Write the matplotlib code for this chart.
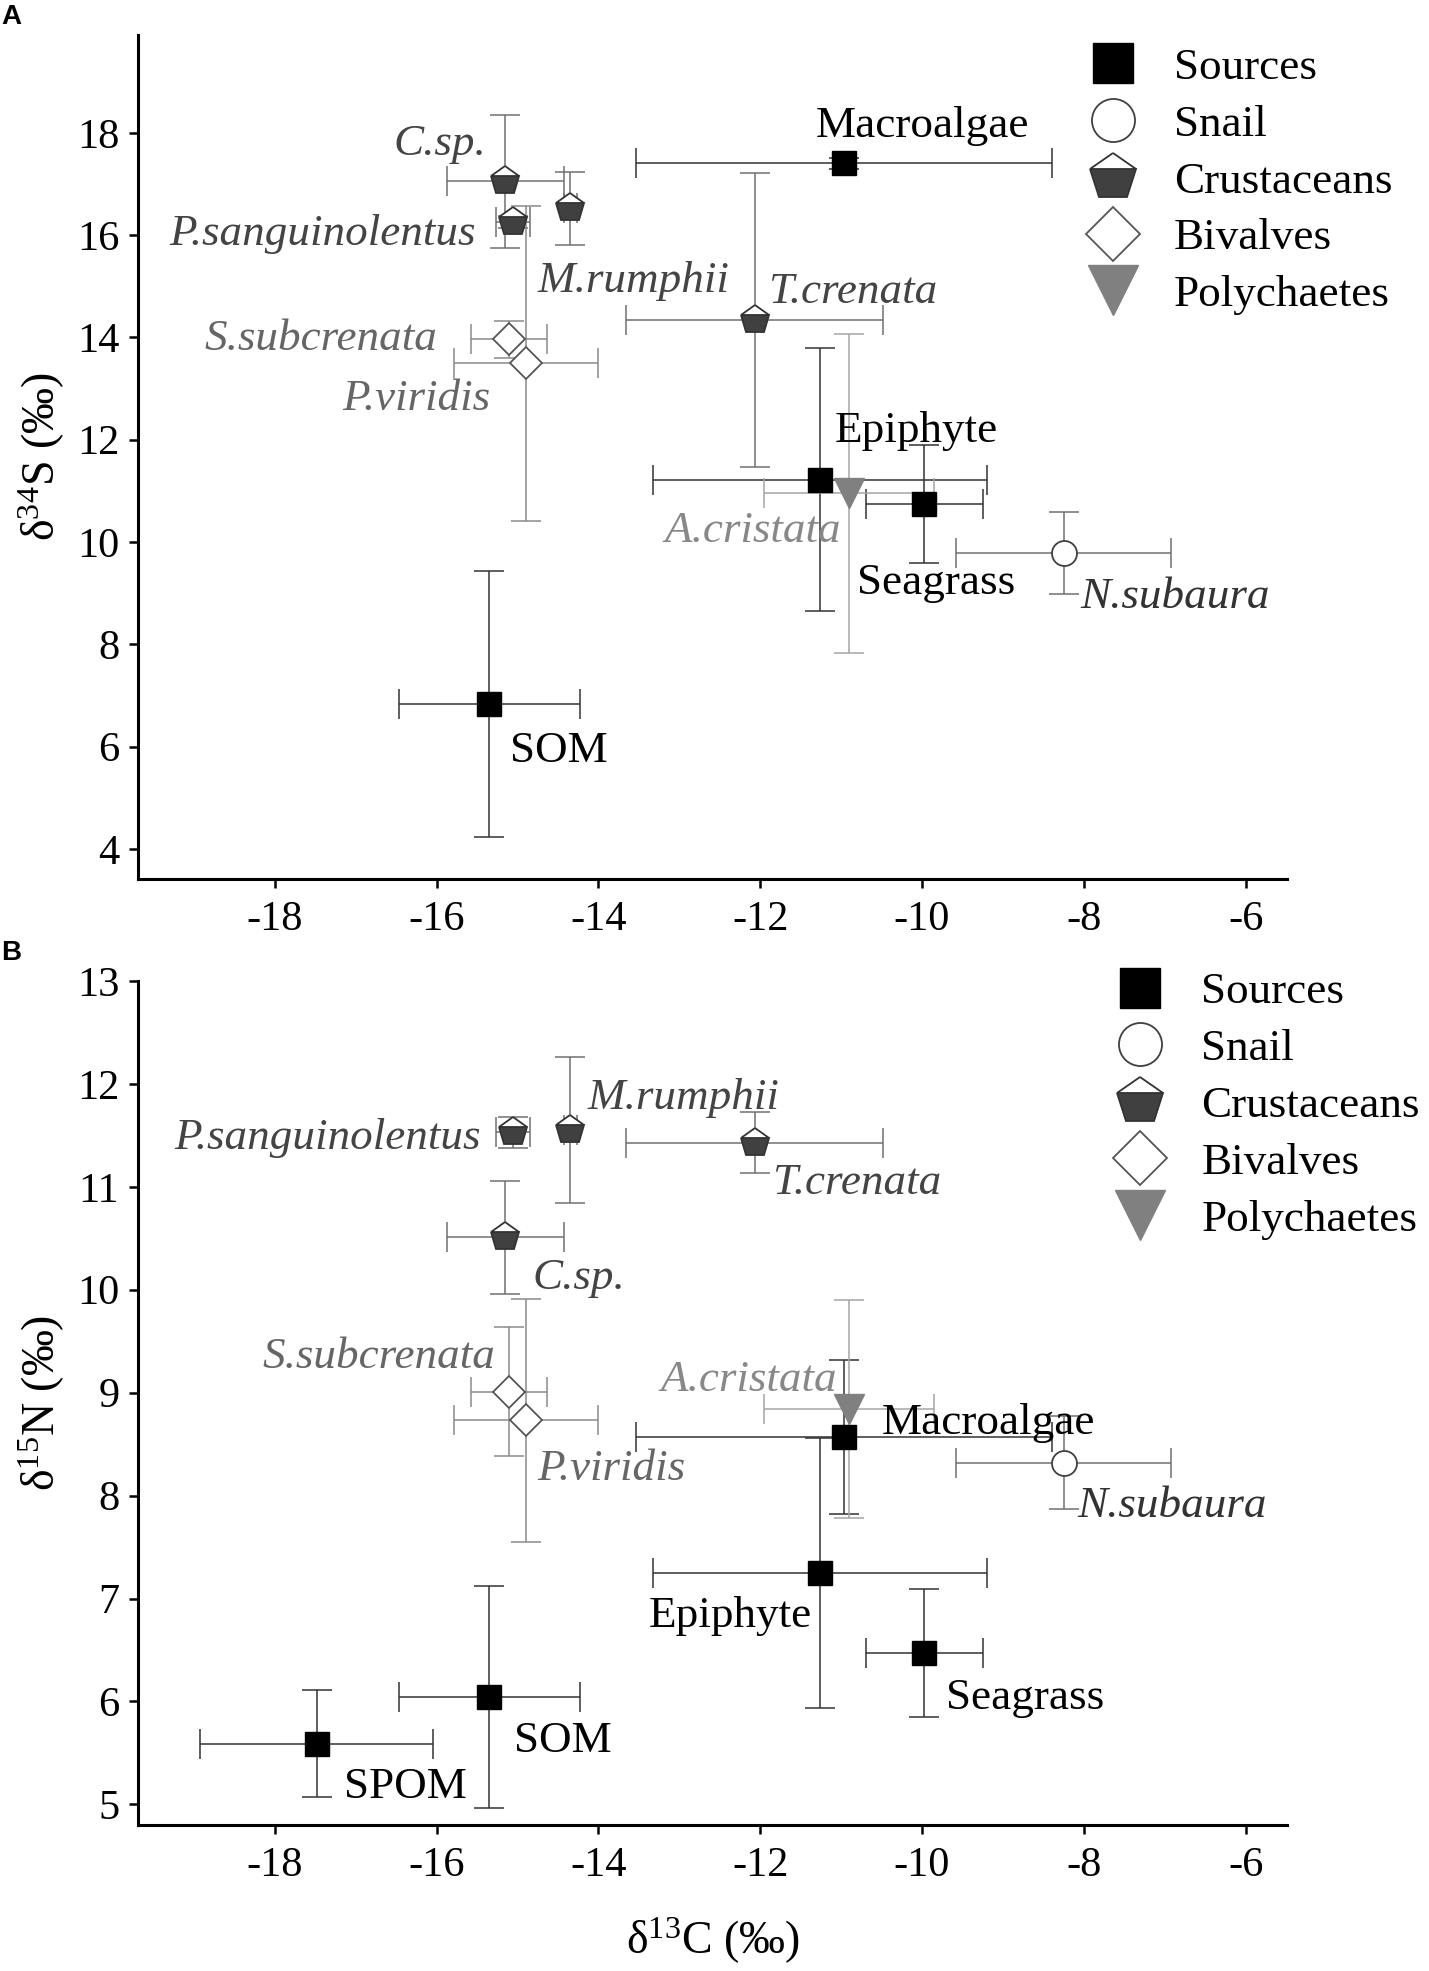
import numpy as np
import matplotlib
matplotlib.use('Agg')
import matplotlib.pyplot as plt
from matplotlib.lines import Line2D

plt.rcParams['font.family'] = ['Liberation Serif', 'DejaVu Serif']
plt.rcParams['mathtext.fontset'] = 'custom'
plt.rcParams['mathtext.rm'] = 'Liberation Serif'
plt.rcParams['mathtext.it'] = 'Liberation Serif:italic'
plt.rcParams['axes.unicode_minus'] = False

# taxa, in the same order for both panels
taxa = ['Macroalgae', 'Epiphyte', 'Seagrass', 'SOM', 'SPOM', 'N.subaura',
        'C.sp.', 'P.sanguinolentus', 'M.rumphii', 'T.crenata',
        'S.subcrenata', 'P.viridis', 'A.cristata']
groups = ['Sources', 'Sources', 'Sources', 'Sources', 'Sources', 'Snail',
          'Crustaceans', 'Crustaceans', 'Crustaceans', 'Crustaceans',
          'Bivalves', 'Bivalves', 'Polychaetes']

# delta 13C mean and sd
d13c = [-10.96, -11.26, -9.97, -15.35, -17.48, -8.25,
        -15.15, -15.05, -14.35, -12.07, -15.10, -14.90, -10.90]
d13c_sd = [2.57, 2.06, 0.72, 1.12, 1.44, 1.33,
           0.72, 0.21, 0.08, 1.59, 0.47, 0.89, 1.05]

# delta 34S mean and sd (no SPOM)
d34s = [17.40, 11.22, 10.74, 6.83, np.nan, 9.79,
        17.05, 16.26, 16.52, 14.34, 13.96, 13.49, 10.95]
d34s_sd = [0.10, 2.57, 1.16, 2.60, np.nan, 0.80,
           1.30, 0.12, 0.71, 2.87, 0.37, 3.07, 3.12]

# delta 15N mean and sd
d15n = [8.57, 7.25, 6.47, 6.04, 5.59, 8.32,
        10.51, 11.53, 11.55, 11.43, 9.01, 8.73, 8.84]
d15n_sd = [0.75, 1.31, 0.62, 1.08, 0.52, 0.45,
           0.55, 0.15, 0.71, 0.30, 0.63, 1.18, 1.06]

group_order = ['Sources', 'Snail', 'Crustaceans', 'Bivalves', 'Polychaetes']

# marker / colour styles per group
style = {
    'Sources': dict(marker='s', ms=16.6, mfc='black', mec='black', mew=1.0),
    'Snail': dict(marker='o', ms=18, mfc='white', mec='#404040', mew=1.3),
    'Crustaceans': dict(marker='p', ms=21, fillstyle='bottom', mfc='#404040',
                        mfcalt='white', mec='#333333', mew=1.3),
    'Bivalves': dict(marker='D', ms=16.8, mfc='white', mec='#555555', mew=1.3),
    'Polychaetes': dict(marker='v', ms=21, mfc='#808080', mec='#808080', mew=1.0),
}
legend_ms = {'Sources': 29.5, 'Snail': 31, 'Crustaceans': 35,
             'Bivalves': 27, 'Polychaetes': 36}
err_color = {'Sources': '#333333', 'Snail': '#707070', 'Crustaceans': '#707070',
             'Bivalves': '#8a8a8a', 'Polychaetes': '#a5a5a5'}
text_color = {'Sources': 'black', 'Snail': '#333333', 'Crustaceans': '#444444',
              'Bivalves': '#666666', 'Polychaetes': '#888888'}

# label anchors (x, baseline y, ha) per panel
labels_a = {
    'Macroalgae': (-11.32, 17.92, 'left'),
    'C.sp.': (-15.39, 17.56, 'right'),
    'P.sanguinolentus': (-15.51, 15.80, 'right'),
    'M.rumphii': (-14.75, 14.89, 'left'),
    'T.crenata': (-11.90, 14.67, 'left'),
    'S.subcrenata': (-15.99, 13.75, 'right'),
    'P.viridis': (-15.33, 12.58, 'right'),
    'Epiphyte': (-11.08, 11.96, 'left'),
    'A.cristata': (-11.00, 10.00, 'right'),
    'Seagrass': (-10.80, 8.99, 'left'),
    'N.subaura': (-8.05, 8.70, 'left'),
    'SOM': (-15.09, 5.69, 'left'),
}
labels_b = {
    'P.sanguinolentus': (-15.45, 11.37, 'right'),
    'M.rumphii': (-14.13, 11.76, 'left'),
    'C.sp.': (-14.81, 10.01, 'left'),
    'S.subcrenata': (-15.28, 9.235, 'right'),
    'P.viridis': (-14.75, 8.15, 'left'),
    'T.crenata': (-11.85, 10.93, 'left'),
    'A.cristata': (-11.05, 9.02, 'right'),
    'Macroalgae': (-10.50, 8.60, 'left'),
    'N.subaura': (-8.08, 7.79, 'left'),
    'Epiphyte': (-13.38, 6.725, 'left'),
    'Seagrass': (-9.70, 5.93, 'left'),
    'SOM': (-13.83, 5.51, 'right'),
    'SPOM': (-17.14, 5.06, 'left'),
}


def draw_panel(ax, yvals, yerrs, labels, ylim, yticks, legend_anchor):
    for i, name in enumerate(taxa):
        if np.isnan(yvals[i]):
            continue
        g = groups[i]
        ax.errorbar(d13c[i], yvals[i], xerr=d13c_sd[i], yerr=yerrs[i],
                    fmt='none', ecolor=err_color[g], elinewidth=1.1,
                    capsize=11, capthick=1.1, zorder=2)
        ax.plot(d13c[i], yvals[i], ls='none', zorder=3, **style[g])
        if name in labels:
            lx, ly, ha = labels[name]
            italic = g != 'Sources'
            ax.text(lx, ly, name, ha=ha, va='baseline',
                    fontsize=32.5, color=text_color[g],
                    style='italic' if italic else 'normal', zorder=4)

    ax.set_xlim(-19.69, -5.49)
    ax.set_ylim(*ylim)
    ax.set_xticks([-18, -16, -14, -12, -10, -8, -6])
    ax.set_yticks(yticks)
    for s in ['top', 'right']:
        ax.spines[s].set_visible(False)
    for s in ['left', 'bottom']:
        ax.spines[s].set_linewidth(2.2)
    ax.tick_params(direction='out', length=6.5, width=1.8,
                   labelsize=30.5, pad=7)
    ax.tick_params(axis='x', pad=9)

    handles = []
    for g in group_order:
        st = dict(style[g])
        st['ms'] = legend_ms[g]
        handles.append(Line2D([], [], ls='none', **st))
    ax.legend(handles, group_order, loc='upper left',
              bbox_to_anchor=legend_anchor, bbox_transform=fig.transFigure,
              frameon=False, fontsize=32.5, handlelength=1.2,
              handletextpad=0.75, labelspacing=0.36, borderpad=0,
              borderaxespad=0)


fig = plt.figure(figsize=(14.29, 19.71), dpi=100)
ax_a = fig.add_axes([0.0966, 0.554, 0.804, 0.4282])
ax_b = fig.add_axes([0.0966, 0.0741, 0.804, 0.4282])

draw_panel(ax_a, d34s, d34s_sd, labels_a, (3.41, 19.91),
           [4, 6, 8, 10, 12, 14, 16, 18], (0.760, 0.976))
draw_panel(ax_b, d15n, d15n_sd, labels_b, (4.80, 13.0),
           [5, 6, 7, 8, 9, 10, 11, 12, 13], (0.779, 0.507))

ax_a.set_ylabel('δ$^{34}$S (‰)', fontsize=33)
ax_a.yaxis.set_label_coords(-0.062, 0.5)
ax_b.set_ylabel('δ$^{15}$N (‰)', fontsize=33)
ax_b.yaxis.set_label_coords(-0.062, 0.5)
ax_b.set_xlabel('δ$^{13}$C (‰)', fontsize=33)
ax_b.xaxis.set_label_coords(0.5, -0.108)

fig.text(0.001, 1 - 4 / 1971, 'A', fontsize=20, fontweight='bold',
         family='Liberation Sans', va='top', ha='left')
fig.text(0.001, 1 - 940 / 1971, 'B', fontsize=20, fontweight='bold',
         family='Liberation Sans', va='top', ha='left')

fig.savefig('out.png', dpi=100)
